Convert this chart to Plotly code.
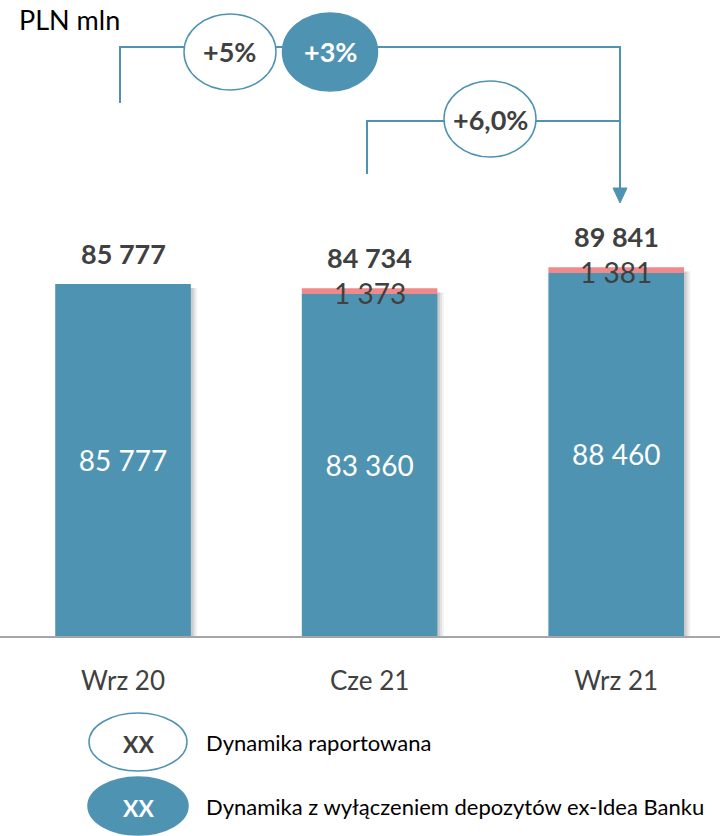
import plotly.graph_objects as go

categories = ["Wrz 20", "Cze 21", "Wrz 21"]
core_deposits = [85777, 83360, 88460]
ex_idea_deposits = [0, 1373, 1381]
totals = [85777, 84734, 89841]
growth_reported = ["+5%", "+6,0%"]
growth_ex_idea = ["+3%"]
legend_labels = ["Dynamika raportowana", "Dynamika z wyłączeniem depozytów ex-Idea Banku"]
unit_label = "PLN mln"

BLUE = "#4F93B2"
PINK = "#F08A8A"
DARK = "#404040"
FONT = "Lato"

W, H = 720, 836
PLOT_H = 636

def fmt(v):
    return f"{v:,}".replace(",", " ")

def px(x):
    return x / W

def py(y):
    return (PLOT_H - y) / PLOT_H

x = list(range(len(categories)))
fig = go.Figure()

# soft shadow layers
for k, a in [(0.026, 0.05), (0.018, 0.07), (0.010, 0.09)]:
    fig.add_trace(go.Bar(x=x, y=totals, base=[-1000] * 3, width=0.55, offset=-0.275 + k,
                         marker=dict(color=f"rgba(0,0,0,{a})", line=dict(width=0)),
                         hoverinfo="skip", showlegend=False))
fig.add_trace(go.Bar(x=x, y=core_deposits, base=[0] * 3, width=0.55, offset=-0.275,
                     marker=dict(color=BLUE, line=dict(width=0)),
                     text=[fmt(v) for v in core_deposits], textposition="inside",
                     insidetextanchor="middle",
                     textfont=dict(color="white", size=28, family=FONT),
                     showlegend=False))
fig.add_trace(go.Bar(x=x, y=ex_idea_deposits, base=core_deposits, width=0.55, offset=-0.275,
                     marker=dict(color=PINK, line=dict(width=0)),
                     textposition="none", showlegend=False))

annotations = []
for i in range(len(categories)):
    annotations.append(dict(x=i, y=totals[i], yref="y", xref="x", text=f"<b>{fmt(totals[i])}</b>",
                            showarrow=False, yshift=31, xanchor="center", yanchor="middle",
                            font=dict(size=27, color=DARK, family=FONT)))
    if ex_idea_deposits[i]:
        annotations.append(dict(x=i, y=core_deposits[i] + ex_idea_deposits[i] / 2, xref="x", yref="y",
                                text=fmt(ex_idea_deposits[i]), showarrow=False, yshift=-2,
                                xanchor="center", yanchor="middle",
                                font=dict(size=28, color=DARK, family=FONT)))

annotations.append(dict(x=px(17), y=py(19), xref="paper", yref="paper", text=unit_label,
                        showarrow=False, xanchor="left", yanchor="middle",
                        font=dict(size=27, color="black", family=FONT)))

shapes = []
LINE = dict(color=BLUE, width=2)
shapes.append(dict(type="path", xref="paper", yref="paper",
                   path=f"M {px(120)} {py(103)} L {px(120)} {py(47)} L {px(620)} {py(47)} L {px(620)} {py(190)}",
                   line=LINE))
shapes.append(dict(type="path", xref="paper", yref="paper",
                   path=f"M {px(367)} {py(174)} L {px(367)} {py(121)} L {px(620)} {py(121)}",
                   line=LINE))
shapes.append(dict(type="path", xref="paper", yref="paper",
                   path=f"M {px(613)} {py(188)} L {px(627)} {py(188)} L {px(620)} {py(203)} Z",
                   fillcolor=BLUE, line=dict(color=BLUE, width=1)))

def ellipse(cx, cy, w, h, filled):
    return dict(type="circle", xref="paper", yref="paper",
                x0=px(cx - w / 2), x1=px(cx + w / 2), y0=py(cy + h / 2), y1=py(cy - h / 2),
                fillcolor=BLUE if filled else "white", line=dict(color=BLUE, width=1.5))

shapes.append(ellipse(230, 52, 92, 76, False))
shapes.append(ellipse(330, 52, 95, 78, True))
shapes.append(ellipse(490, 119, 92, 76, False))
shapes.append(ellipse(138, 742, 98, 58, False))
shapes.append(ellipse(138, 806, 100, 58, True))

def label(cx, cy, txt, size, color, anchor="center"):
    return dict(x=px(cx), y=py(cy), xref="paper", yref="paper", text=txt, showarrow=False,
                xanchor=anchor, yanchor="middle", font=dict(size=size, color=color, family=FONT))

annotations.append(label(230, 52, f"<b>{growth_reported[0]}</b>", 27, DARK))
annotations.append(label(330, 52, f"<b>{growth_ex_idea[0]}</b>", 27, "white"))
annotations.append(label(490, 120, f"<b>{growth_reported[1]}</b>", 27, DARK))
annotations.append(label(138, 744, "<b>XX</b>", 23, DARK))
annotations.append(label(138, 808, "<b>XX</b>", 23, "white"))
annotations.append(label(204, 742, legend_labels[0], 22, "black", "left"))
annotations.append(label(204, 806, legend_labels[1], 22, "black", "left"))

scale = 0.0041037
fig.update_layout(
    width=W, height=H,
    margin=dict(l=0, r=0, t=0, b=H - PLOT_H),
    paper_bgcolor="white", plot_bgcolor="white",
    barmode="overlay",
    showlegend=False,
    xaxis=dict(range=[-0.499, 2.421], tickvals=x, ticktext=categories, showgrid=False, zeroline=False,
               showline=True, linecolor="#A6A6A6", linewidth=1.5, ticks="",
               tickfont=dict(size=26, color=DARK, family=FONT), ticklabelstandoff=21, fixedrange=True),
    yaxis=dict(range=[0, PLOT_H / scale], visible=False, fixedrange=True),
    shapes=shapes,
    annotations=annotations,
)

fig.write_html("out.html", config={"displayModeBar": False},
               post_script="document.body.style.margin='0';document.body.style.padding='0';")
